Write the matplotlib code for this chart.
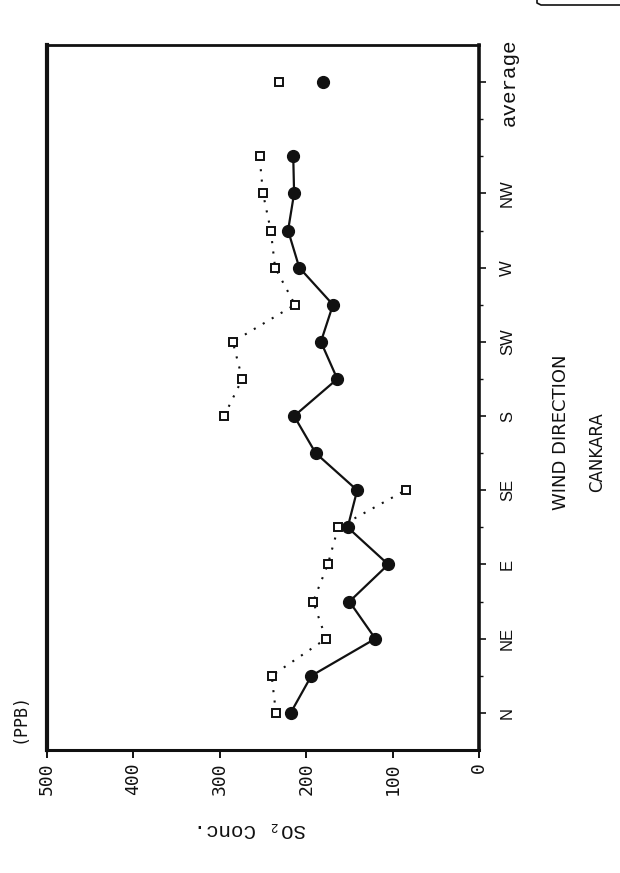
import matplotlib
matplotlib.use("Agg")
import matplotlib.pyplot as plt
from matplotlib.lines import Line2D
import numpy as np

# 16 direcciones de viento (solo las 8 principales llevan etiqueta) + promedio
direcciones = ["N", "NNE", "NE", "ENE", "E", "ESE", "SE", "SSE",
               "S", "SSW", "SW", "WSW", "W", "WNW", "NW", "NNW"]
etiquetas = ["N", "NE", "E", "SE", "S", "SW", "W", "NW", "average"]

so2_llenos = [218, 194, 120, 150, 105, 152, 141, 189,
              214, 164, 183, 169, 208, 221, 214, 215]
so2_cuadrados = [235, 240, 177, 192, 175, 163, 85, np.nan,
                 295, 274, 285, 213, 236, 241, 250, 254]
promedio_llenos = 180
promedio_cuadrados = 232

valores_eje = [500, 400, 300, 200, 100, 0]

tinta = "#111111"
W, H = 620, 873

fig = plt.figure(figsize=(W / 100, H / 100), dpi=100)
# Grafico girado 90 grados: concentracion en horizontal (500 a la izquierda), direcciones en vertical
ax = fig.add_axes([47 / W, 1 - 750 / H, 432 / W, 705 / H])

pos = np.arange(len(direcciones))
pos_prom = len(direcciones) + 1

ax.plot(so2_llenos, pos, color=tinta, lw=1.6, marker="o", ms=8.5, mfc=tinta, mec=tinta, zorder=3)
ax.plot(so2_cuadrados, pos, color=tinta, lw=1.5, ls=(0, (1, 4)), marker="s", ms=6,
        mfc="white", mec=tinta, mew=1.4, zorder=3)
ax.plot([promedio_llenos], [pos_prom], ls="none", marker="o", ms=8.5, mfc=tinta, mec=tinta)
ax.plot([promedio_cuadrados], [pos_prom], ls="none", marker="s", ms=6, mfc="white", mec=tinta, mew=1.4)

ax.set_xlim(500, 0)
ax.set_ylim(-1, 18)

ax.set_xticks(valores_eje)
ax.set_xticklabels([str(v) for v in valores_eje], rotation=90, family="DejaVu Sans Mono", fontsize=13, color=tinta)
ax.tick_params(axis="x", direction="out", length=6, width=1.4, pad=3, colors=tinta)

ax.yaxis.tick_right()
ax.set_yticks(list(pos[::2]) + [pos_prom])
ax.set_yticks([p for p in pos if p % 2 == 1] + [16], minor=True)
ax.set_yticklabels(etiquetas, rotation=90, family="Liberation Sans", fontsize=12, color=tinta, va="center")
ax.get_yticklabels()[-1].set_family("Liberation Mono")
ax.get_yticklabels()[-1].set_fontsize(15)
ax.tick_params(axis="y", which="major", direction="out", length=5, width=1.2, pad=10, colors=tinta)
ax.tick_params(axis="y", which="minor", direction="out", length=3, width=1.0, colors=tinta)

for lado, ancho in {"left": 3.0, "right": 2.6, "top": 2.0, "bottom": 2.2}.items():
    ax.spines[lado].set_linewidth(ancho)
    ax.spines[lado].set_color(tinta)

# Textos sueltos, todos girados como en el escaneo original
fig.text(20 / W, 1 - 718 / H, "(PPB)", rotation=90, ha="center", va="center",
         family="DejaVu Sans Mono", fontsize=12, color=tinta)
fig.text(250 / W, 1 - 830 / H, "SO\u2082 Conc.", rotation=180, ha="center", va="center",
         family=["Liberation Mono", "DejaVu Sans Mono"], fontsize=15, color=tinta)
fig.text(561 / W, 1 - 432 / H, "WIND DIRECTION", rotation=90, ha="center", va="center",
         family="DejaVu Sans", fontsize=13, color=tinta)
fig.text(597 / W, 1 - 452 / H, "CANKARA", rotation=90, ha="center", va="center",
         family="DejaVu Sans", fontsize=12, color=tinta)

# Trozo de recuadro en la esquina superior derecha
fig.add_artist(Line2D([537 / W, 537 / W, 541 / W, 1.0], [1.0, 1 - 3 / H, 1 - 5 / H, 1 - 5 / H],
                      color=tinta, lw=1.2, transform=fig.transFigure))

fig.savefig("out.png", dpi=100, facecolor="white")
